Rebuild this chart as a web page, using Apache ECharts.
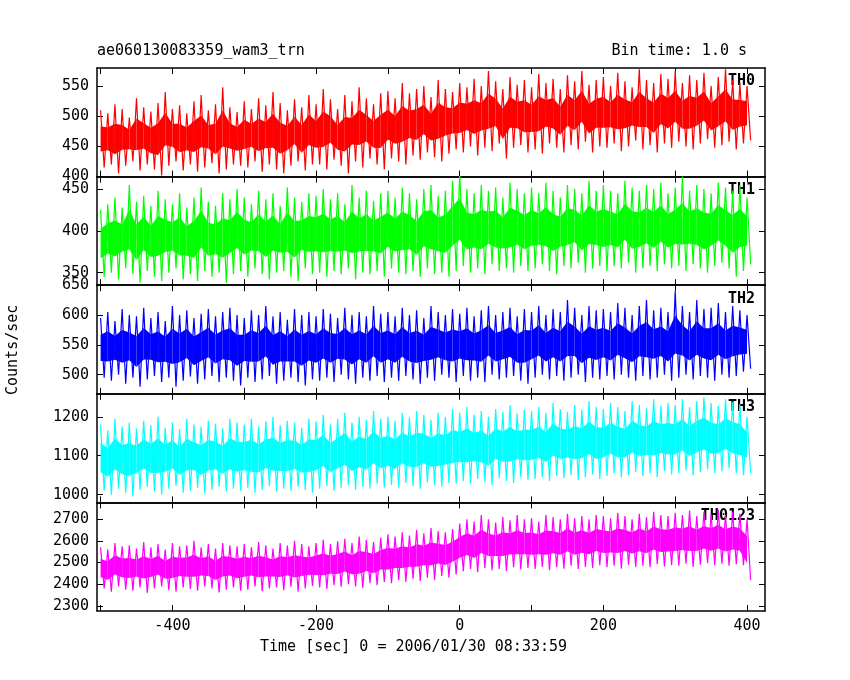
<!DOCTYPE html>
<html>
<head>
<meta charset="utf-8">
<script src="https://cdn.jsdelivr.net/npm/echarts@6/dist/echarts.min.js"></script>
<style>html,body{margin:0;background:#fff}#chart{width:850px;height:680px}</style>
</head>
<body>
<div id="chart"></div>
<script>
// 10 s bins, t = -500 ... 400; upper / lower envelope of each light curve
var binStart = -500, binStep = 10;
var names = ['TH0', 'TH1', 'TH2', 'TH3', 'TH0123'];
var colors = ['#ff0000', '#00ff00', '#0000ff', '#00ffff', '#ff00ff'];
var hi0 = [510,505,520,512,498,530,515,508,522,540,512,518,505,525,535,510,520,548,515,507,525,512,530,518,540,522,510,528,515,535,520,545,528,512,535,525,548,530,520,538,542,530,555,538,545,550,532,560,545,540,555,548,562,550,575,558,545,565,552,560,548,570,555,562,545,568,558,575,552,560,565,550,572,558,548,578,560,555,570,562,575,555,568,560,572,550,565,578,560,555,550];
var lo0 = [415,420,405,418,425,410,420,412,402,418,425,410,420,408,415,422,405,412,420,418,415,425,408,420,412,405,418,425,410,420,420,412,428,418,405,425,415,430,420,412,430,425,420,435,428,440,432,425,438,445,440,450,435,448,442,455,430,448,452,440,445,438,455,448,440,452,445,458,440,450,448,455,442,450,460,445,452,440,455,448,458,450,445,455,462,448,452,458,445,455,460];
var hi1 = [425,432,440,428,455,435,442,430,448,438,432,445,428,440,452,435,430,445,438,450,440,432,448,438,445,430,452,440,435,445,442,450,438,445,432,455,440,448,436,445,448,440,452,445,438,450,455,442,448,460,470,450,445,455,448,452,440,458,450,445,452,445,458,448,440,455,450,445,460,448,455,448,445,460,452,448,455,450,458,445,452,465,448,455,450,445,458,452,448,455,440];
var lo1 = [345,350,342,355,348,338,352,345,340,350,355,342,348,340,352,345,350,338,348,352,345,355,348,342,350,352,345,340,355,348,350,345,352,348,355,342,350,348,352,345,355,350,348,352,345,355,348,350,345,352,358,350,355,348,360,352,355,350,358,352,355,360,352,348,358,355,362,350,355,358,352,358,355,362,350,355,358,352,360,355,358,352,360,355,350,358,362,355,345,352,360];
var hi2 = [595,605,590,610,600,598,612,595,605,590,615,600,608,595,602,610,598,605,612,600,595,608,600,615,598,605,592,610,600,605,598,610,602,595,612,600,605,598,615,602,605,598,612,600,608,595,615,605,600,610,602,612,598,608,615,600,605,612,598,610,605,615,600,610,605,625,612,600,615,608,610,605,620,612,600,615,625,608,612,605,640,615,605,625,610,612,620,605,615,608,600];
var lo2 = [495,490,500,485,495,480,492,498,488,495,480,490,497,485,492,498,488,495,490,482,495,488,492,498,485,490,495,488,482,492,490,495,488,500,492,485,495,490,498,488,495,490,498,492,485,495,490,500,495,488,498,490,495,488,500,492,495,498,490,485,495,500,492,498,490,495,500,488,495,492,498,492,500,495,490,498,492,495,500,490,495,500,492,498,495,490,500,495,498,505,510];
var hi3 = [1180,1165,1195,1175,1185,1170,1190,1178,1200,1172,1185,1168,1195,1180,1175,1190,1182,1170,1195,1185,1180,1195,1175,1188,1200,1178,1190,1185,1172,1195,1188,1205,1180,1195,1210,1185,1200,1192,1215,1195,1200,1190,1210,1198,1215,1205,1192,1210,1200,1220,1210,1225,1205,1215,1200,1220,1212,1230,1208,1218,1215,1225,1210,1235,1220,1212,1230,1218,1240,1225,1220,1235,1225,1215,1240,1230,1222,1245,1228,1235,1230,1245,1225,1240,1250,1235,1228,1245,1238,1232,1200];
var lo3 = [1010,1000,1015,1005,995,1012,1020,1008,1000,1015,1022,1005,1010,1018,1002,1012,1020,1008,1015,1010,1018,1005,1012,1022,1008,1015,1010,1020,1012,1005,1015,1022,1010,1018,1025,1012,1020,1015,1028,1018,1025,1018,1030,1022,1015,1032,1025,1020,1030,1028,1035,1028,1040,1032,1025,1042,1035,1030,1045,1038,1040,1045,1035,1048,1042,1050,1038,1045,1052,1040,1048,1055,1045,1050,1058,1048,1055,1045,1060,1052,1055,1062,1050,1058,1065,1055,1060,1068,1055,1050,1055];
var hi4 = [2570,2560,2590,2575,2580,2565,2595,2570,2585,2560,2590,2575,2580,2600,2570,2585,2565,2590,2580,2575,2585,2570,2595,2580,2565,2590,2578,2600,2585,2575,2590,2605,2585,2598,2610,2590,2620,2605,2595,2615,2630,2620,2640,2625,2650,2635,2660,2645,2640,2655,2680,2700,2690,2720,2700,2685,2710,2695,2720,2700,2705,2690,2720,2710,2700,2725,2705,2715,2700,2720,2715,2705,2730,2715,2700,2725,2710,2735,2720,2715,2730,2720,2740,2715,2735,2725,2745,2720,2735,2725,2700];
var lo4 = [2380,2365,2390,2375,2370,2385,2360,2380,2390,2372,2365,2385,2378,2370,2390,2380,2362,2375,2385,2370,2375,2390,2368,2380,2385,2372,2388,2365,2380,2392,2385,2378,2395,2388,2400,2390,2382,2405,2395,2410,2405,2418,2410,2425,2415,2430,2420,2438,2430,2445,2460,2470,2455,2475,2465,2470,2460,2478,2468,2475,2470,2480,2465,2478,2472,2485,2470,2480,2475,2488,2478,2485,2472,2490,2480,2485,2478,2492,2482,2488,2485,2495,2480,2490,2498,2488,2495,2485,2492,2488,2420];
var highs = [hi0, hi1, hi2, hi3, hi4];
var lows = [lo0, lo1, lo2, lo3, lo4];
var yMin = [400, 335, 468, 980, 2276];
var yMax = [580, 465, 650, 1259, 2778];
var yLabels = [[400,450,500,550],[350,400,450],[500,550,600,650],[1000,1100,1200],[2300,2400,2500,2600,2700]];
var xLabels = [-400, -200, 0, 200, 400];
var xTicks = [-500, -400, -300, -200, -100, 0, 100, 200, 300, 400];

var myChart = echarts.init(document.getElementById('chart'));
var font = 'DejaVu Sans Mono';
var top0 = 68, panelH = 108.6;
var grid = [], xAxis = [], yAxis = [], series = [], graphic = [];

function bandItem(i) {
    var hi = highs[i], lo = lows[i];
    return function (params, api) {
        var k = params.dataIndex;
        if (k >= hi.length - 1) return;
        var t = binStart + k * binStep;
        var core = function (h, l, f) { return l + (h - l) * f; };
        var p = [
            api.coord([t, core(hi[k], lo[k], 0.72)]),
            api.coord([t + binStep, core(hi[k + 1], lo[k + 1], 0.72)]),
            api.coord([t + binStep, core(hi[k + 1], lo[k + 1], 0.28)]),
            api.coord([t, core(hi[k], lo[k], 0.28)])
        ];
        return {type: 'polygon', shape: {points: p}, style: {fill: colors[i]}};
    };
}

for (var i = 0; i < 5; i++) {
    grid.push({left: 97, width: 668, top: top0 + i * panelH, height: panelH});
    var line = {show: true, onZero: false, lineStyle: {color: '#000', width: 1.5}};
    var tick = {show: true, inside: true, length: 6, lineStyle: {color: '#000'}, customValues: xTicks};
    xAxis.push({type: 'value', gridIndex: i, position: 'bottom', min: -505, max: 425,
        axisLine: line, axisTick: tick, splitLine: {show: false},
        axisLabel: {show: i === 4, customValues: xLabels, color: '#000', fontFamily: font, fontSize: 15}});
    xAxis.push({type: 'value', gridIndex: i, position: 'top', min: -505, max: 425,
        axisLine: line, axisTick: tick, splitLine: {show: false}, axisLabel: {show: false}});
    var yt = {show: true, inside: true, length: 6, lineStyle: {color: '#000'}, customValues: yLabels[i]};
    var fmt = function (v) { return String(v); };
    yAxis.push({type: 'value', gridIndex: i, position: 'left', min: yMin[i], max: yMax[i],
        axisLine: line, axisTick: yt, splitLine: {show: false},
        axisLabel: {customValues: yLabels[i], formatter: fmt, color: '#000', fontFamily: font, fontSize: 15}});
    yAxis.push({type: 'value', gridIndex: i, position: 'right', min: yMin[i], max: yMax[i],
        axisLine: line, axisTick: yt, splitLine: {show: false}, axisLabel: {show: false}});

    var pts = [];
    for (var k = 0; k < highs[i].length; k++) {
        var t = binStart + k * binStep;
        pts.push([t, highs[i][k]]);
        pts.push([t + binStep / 2, lows[i][k]]);
    }
    series.push({type: 'custom', xAxisIndex: 2 * i, yAxisIndex: 2 * i, silent: true,
        renderItem: bandItem(i), data: highs[i].map(function (v, k) { return [binStart + k * binStep, v]; }), clip: true});
    series.push({type: 'line', xAxisIndex: 2 * i, yAxisIndex: 2 * i, data: pts,
        showSymbol: false, silent: true, lineStyle: {color: colors[i], width: 1.2}});

    graphic.push({type: 'text', right: 95, top: top0 + i * panelH + 6,
        style: {text: names[i], fill: '#000', font: 'bold 15px ' + font}});
}

graphic.push({type: 'text', left: 97, top: 44, style: {text: 'ae060130083359_wam3_trn', fill: '#000', font: '15px ' + font}});
graphic.push({type: 'text', right: 103, top: 44, style: {text: 'Bin time: 1.0 s', fill: '#000', font: '15px ' + font}});
graphic.push({type: 'text', left: 260, top: 640, style: {text: 'Time [sec] 0 = 2006/01/30 08:33:59', fill: '#000', font: '15px ' + font}});
graphic.push({type: 'text', x: 6, y: 395, rotation: Math.PI / 2,
    style: {text: 'Counts/sec', fill: '#000', font: '15px ' + font}});

option = {
    animation: false,
    backgroundColor: '#fff',
    grid: grid, xAxis: xAxis, yAxis: yAxis, series: series, graphic: graphic
};
myChart.setOption(option);
</script>
</body>
</html>
